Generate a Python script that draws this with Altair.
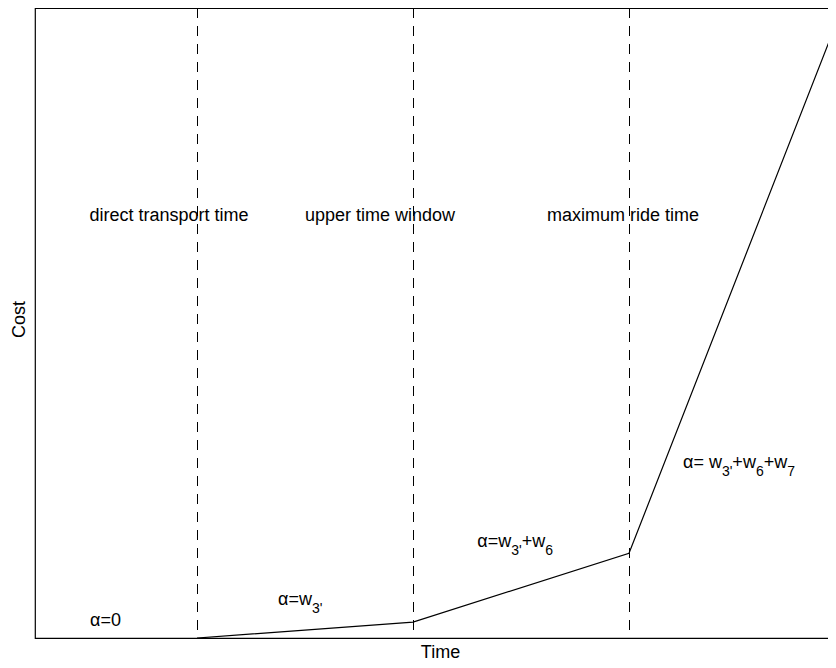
import altair as alt
import pandas as pd

# ---- data ----
line_time = [3, 7, 11, 15]
line_cost = [0, 2.5, 13.3, 100]

boundary_time = [3, 7, 11]
boundary_names = ["direct transport time", "upper time window", "maximum ride time"]
boundary_label_time = [2.48, 6.39, 10.89]
boundary_label_cost = [65.46, 65.46, 65.46]

# each alpha label: list of (text, is_subscript) segments
alpha_segments = [
    [("α=0", False)],
    [("α=w", False), ("3'", True)],
    [("α=w", False), ("3'", True), ("+w", False), ("6", True)],
    [("α= w", False), ("3'", True), ("+w", False), ("6", True), ("+w", False), ("7", True)],
]
alpha_time = [1.02, 4.5, 8.19, 12.0]
alpha_cost = [1.88, 5.18, 14.29, 26.69]

# ---- layout ----
W, H = 810, 630
X_MAX = 15
Y_MAX = 100 * H / 637.0
PX_PER_T = W / X_MAX
PX_PER_C = H / Y_MAX
MAIN_SIZE, SUB_SIZE, SUB_DROP = 18, 14, 8
FONT = "Liberation Sans"

char_w = {"α": 0.578, "=": 0.584, "0": 0.556, "w": 0.722, "3": 0.556, "'": 0.191,
          "+": 0.584, "6": 0.556, "7": 0.556, " ": 0.278}

rows = []
for segs, t0, c0 in zip(alpha_segments, alpha_time, alpha_cost):
    cursor = 0.0
    for txt, sub in segs:
        size = SUB_SIZE if sub else MAIN_SIZE
        rows.append({
            "t": t0 + cursor / PX_PER_T,
            "cost": c0 - (SUB_DROP / PX_PER_C if sub else 0),
            "label": txt,
            "size": size,
        })
        cursor += sum(char_w.get(ch, 0.556) for ch in txt) * size
alpha_df = pd.DataFrame(rows)

line_df = pd.DataFrame({"t": line_time, "cost": line_cost})
rule_df = pd.DataFrame({"t": boundary_time})
name_df = pd.DataFrame({"t": boundary_label_time, "cost": boundary_label_cost, "label": boundary_names})

xs = alt.Scale(domain=[0, X_MAX], nice=False, zero=False)
ys = alt.Scale(domain=[0, Y_MAX], nice=False, zero=False)
x_axis = alt.Axis(title="Time", ticks=False, labels=False, domain=False, grid=False,
                  titleFontSize=18, titleFont=FONT, titleFontWeight="normal",
                  titleColor="black", titlePadding=5)
y_axis = alt.Axis(title="Cost", ticks=False, labels=False, domain=False, grid=False,
                  titleFontSize=18, titleFont=FONT, titleFontWeight="normal",
                  titleColor="black", titlePadding=7, titleY=311)

X = alt.X("t:Q", scale=xs, axis=x_axis)
Y = alt.Y("cost:Q", scale=ys, axis=y_axis)

rules = alt.Chart(rule_df).mark_rule(color="black", strokeWidth=1, strokeDash=[10, 8],
                                     xOffset=0.5).encode(x=X)
line = alt.Chart(line_df).mark_line(color="black", strokeWidth=1.2, clip=True).encode(x=X, y=Y)
names = alt.Chart(name_df).mark_text(font=FONT, fontSize=MAIN_SIZE, align="center",
                                     baseline="alphabetic", color="black").encode(x=X, y=Y, text="label:N")
alphas = alt.Chart(alpha_df).mark_text(font=FONT, align="left", baseline="alphabetic",
                                       color="black").encode(
    x=X, y=Y, text="label:N", size=alt.Size("size:Q", scale=None, legend=None))

chart = alt.layer(rules, line, names, alphas).properties(
    width=W, height=H, background="white",
    autosize=alt.AutoSizeParams(type="none"),
    padding={"left": 27, "top": 0, "right": -17, "bottom": 22}
).configure_view(stroke="black", strokeWidth=1.2)

chart.save("out.html", embed_options={"renderer": "svg", "actions": False})
